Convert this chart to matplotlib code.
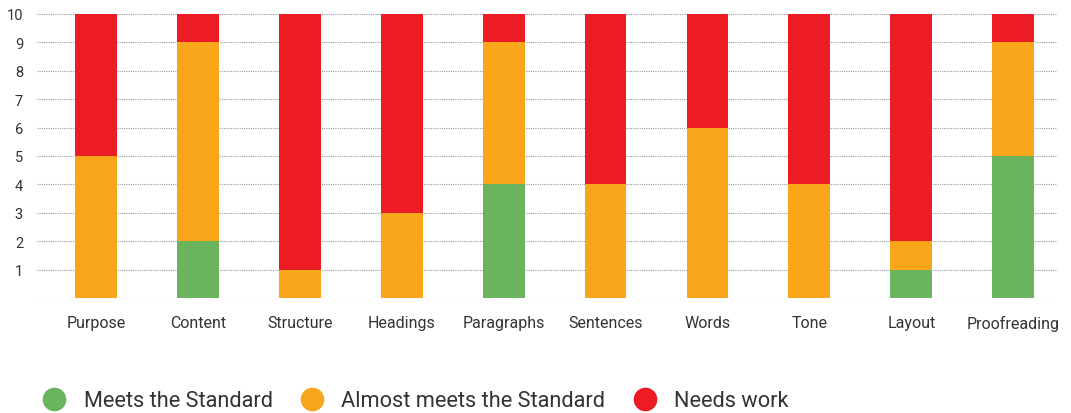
import matplotlib.pyplot as plt
import numpy as np
from matplotlib.lines import Line2D

plt.rcParams['font.family'] = ['Roboto', 'DejaVu Sans']

categories = ['Purpose', 'Content', 'Structure', 'Headings', 'Paragraphs',
              'Sentences', 'Words', 'Tone', 'Layout', 'Proofreading']
meets = [0, 2, 0, 0, 4, 0, 0, 0, 1, 5]
almost = [5, 7, 1, 3, 5, 4, 6, 4, 1, 4]
needs = [5, 1, 9, 7, 1, 6, 4, 6, 8, 1]

labels = ['Meets the Standard', 'Almost meets the Standard', 'Needs work']
colors = ['#6ab45e', '#f9a61b', '#ed1c24']

fig = plt.figure(figsize=(10.71, 4.14), dpi=100)
ax = fig.add_axes([37/1071, 1 - 299/414, (1057-37)/1071, (299-15)/414])

x = np.arange(len(categories))
w = 0.41
meets = np.array(meets)
almost = np.array(almost)
needs = np.array(needs)
ax.bar(x, meets, w, color=colors[0], zorder=3)
ax.bar(x, almost, w, bottom=meets, color=colors[1], zorder=3)
ax.bar(x, needs, w, bottom=meets + almost, color=colors[2], zorder=3)

ax.set_xlim(-0.58, 9.43)
ax.set_ylim(0, 10)
ax.set_yticks(range(0, 11))
ax.set_yticklabels([''] + [str(i) for i in range(1, 11)])
ax.set_xticks(x)
ax.set_xticklabels(categories)
ax.grid(axis='y', color='#999999', linestyle=(0, (1, 1)), linewidth=0.8, zorder=0)
for s in ax.spines.values():
    s.set_visible(False)
ax.tick_params(length=0, labelsize=10.5, colors='#333333')
ax.tick_params(axis='x', pad=12, labelsize=11.5)
ax.tick_params(axis='y', pad=10)

handles = [Line2D([], [], marker='o', linestyle='', markersize=16,
                  markerfacecolor=c, markeredgecolor=c) for c in colors]
fig.legend(handles, labels, loc='center left', bbox_to_anchor=(0.012, 1 - 402/414),
           ncol=3, frameon=False, fontsize=15.7, handletextpad=0.35,
           columnspacing=0.8, labelcolor='#333333')

fig.savefig('out.png', dpi=100)
